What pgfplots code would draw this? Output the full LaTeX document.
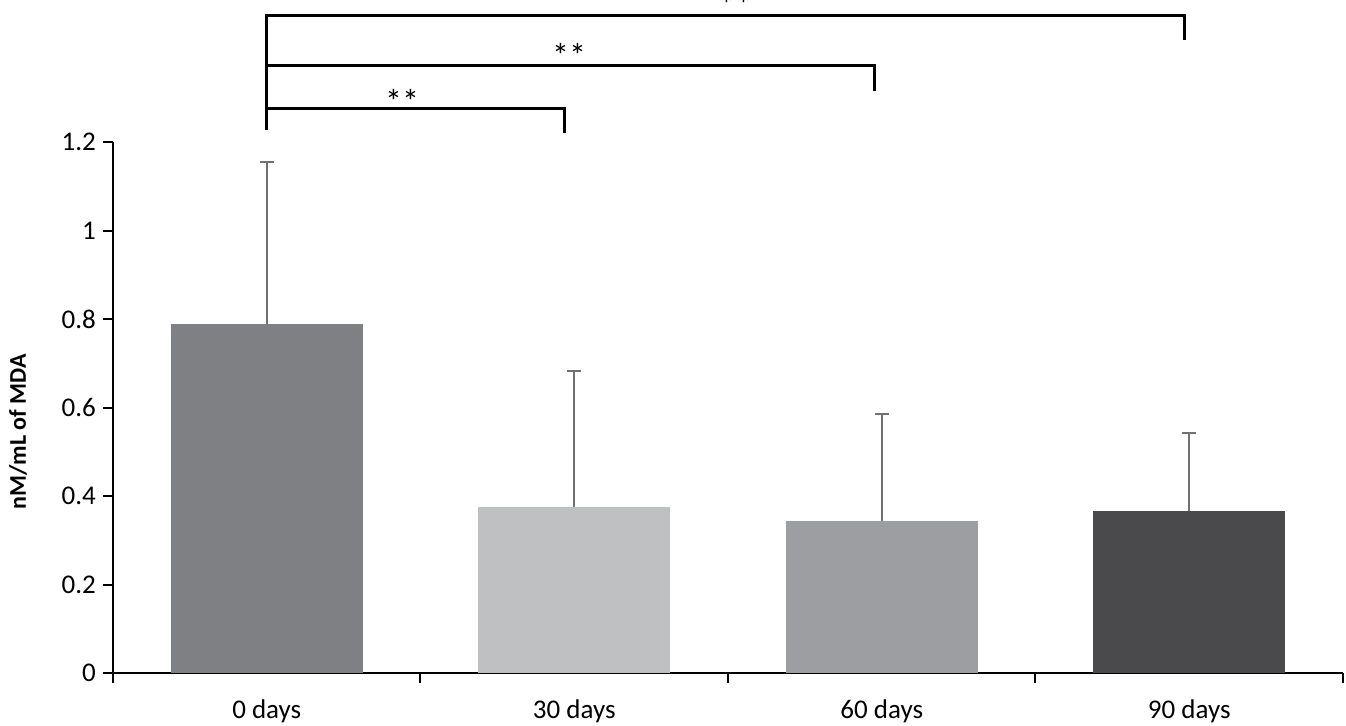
\documentclass[border=0pt]{standalone}
\usepackage{pgfplots}
\pgfplotsset{compat=1.18}
\usepackage{fontspec}
\setmainfont{Carlito}
\definecolor{cA}{HTML}{7F8083}
\definecolor{cB}{HTML}{BFC0C2}
\definecolor{cC}{HTML}{9D9EA2}
\definecolor{cD}{HTML}{4A4A4C}
\definecolor{errc}{HTML}{717175}
\begin{document}
\begin{tikzpicture}
\begin{axis}[
  scale only axis, width=615pt, height=265.5pt,
  xmin=-0.5, xmax=3.5, ymin=0, ymax=1.2,
  axis x line*=bottom, axis y line*=left,
  axis line style={line width=1pt, black},
  xtick={-0.5,0.5,1.5,2.5,3.5}, xticklabels={},
  extra x ticks={0,1,2,3},
  extra x tick labels={0 days,30 days,60 days,90 days},
  extra x tick style={major tick length=0pt, xticklabel style={yshift=-10pt}},
  ytick={0,0.2,0.4,0.6,0.8,1,1.2},
  yticklabels={0,0.2,0.4,0.6,0.8,1,1.2},
  tick align=outside, major tick length=5pt,
  tick style={black, line width=1pt},
  tick label style={font=\fontsize{13.5}{16}\selectfont},
  /pgf/number format/assume math mode=true,
  ylabel={\bfseries nM/mL of MDA},
  ylabel style={at={(axis description cs:-0.0772,0.454)}, anchor=center, font=\fontsize{12}{14}\selectfont},
  clip=false,
  error bars/y dir=plus, error bars/y explicit,
  error bars/error bar style={line width=1pt, color=errc},
  error bars/error mark options={rotate=90, mark size=3.5pt, line width=1pt, color=errc},
]
\addplot[ybar, bar width=96pt, bar shift=0pt, fill=cA, draw=none] coordinates {(0,0.789) +- (0,0.366)};
\addplot[ybar, bar width=96pt, bar shift=0pt, fill=cB, draw=none] coordinates {(1,0.375) +- (0,0.307)};
\addplot[ybar, bar width=96pt, bar shift=0pt, fill=cC, draw=none] coordinates {(2,0.343) +- (0,0.242)};
\addplot[ybar, bar width=96pt, bar shift=0pt, fill=cD, draw=none] coordinates {(3,0.366) +- (0,0.176)};
\draw[line width=1.5pt] (axis cs:0,1.227) -- (axis cs:0,1.487) -- (axis cs:2.986,1.487) -- (axis cs:2.986,1.430);
\draw[line width=1.5pt] (axis cs:0,1.372) -- (axis cs:1.975,1.372) -- (axis cs:1.975,1.315);
\draw[line width=1.5pt] (axis cs:0,1.275) -- (axis cs:0.967,1.275) -- (axis cs:0.967,1.220);
\node[font=\fontsize{17}{20}\selectfont] at (axis cs:0.44,1.292) {**};
\node[font=\fontsize{17}{20}\selectfont] at (axis cs:0.983,1.396) {**};
\node[font=\fontsize{17}{20}\selectfont] at (axis cs:1.523,1.51) {**};
\coordinate (BL) at (axis cs:-0.5,0);
\end{axis}
\pgfresetboundingbox
\path ([xshift=-56.5pt,yshift=-26pt]BL) rectangle ([xshift=616.5pt,yshift=336.5pt]BL);
\end{tikzpicture}
\end{document}
